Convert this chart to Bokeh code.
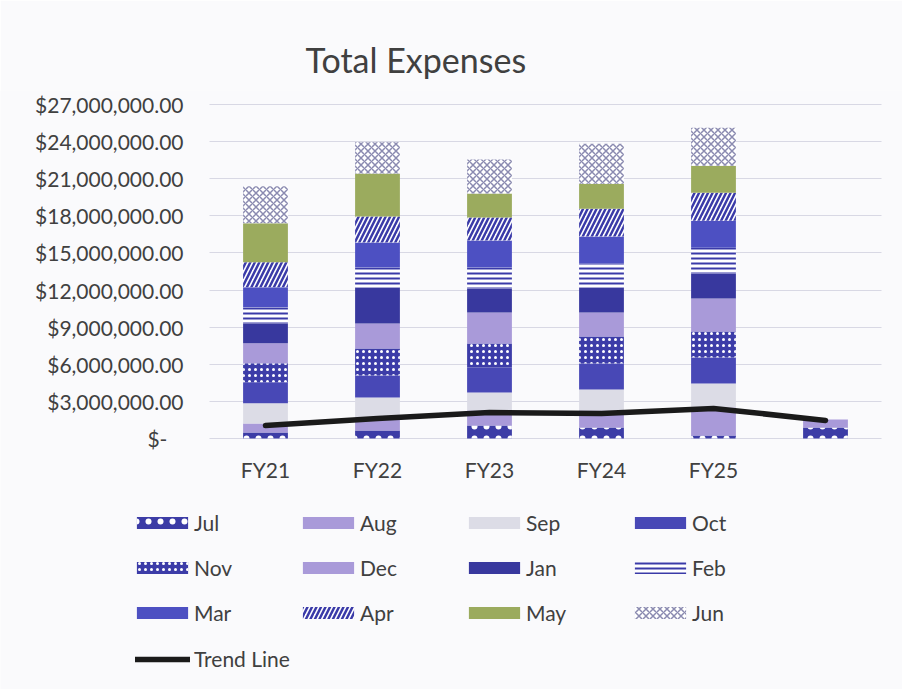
from bokeh.plotting import figure
from bokeh.models import (ColumnDataSource, FixedTicker, NumeralTickFormatter,
                          Legend, LegendItem, Range1d)
from bokeh.transform import stack
from bokeh.embed import file_html
from bokeh.resources import INLINE

# ---------------- data ----------------
categories = ["FY21", "FY22", "FY23", "FY24", "FY25", ""]
months = ["Jul", "Aug", "Sep", "Oct", "Nov", "Dec",
          "Jan", "Feb", "Mar", "Apr", "May", "Jun"]

jul = [490000, 650000, 1050000, 890000, 240000, 890000]
aug = [730000, 1050000, 1210000, 1370000, 2260000, 650000]
sep = [1620000, 1620000, 1460000, 1700000, 1940000, 0]
oct_ = [1700000, 1780000, 2020000, 2100000, 2100000, 0]
nov = [1540000, 2180000, 1940000, 2180000, 2100000, 0]
dec = [1620000, 2020000, 2510000, 1940000, 2670000, 0]
jan = [1620000, 2910000, 1940000, 2020000, 2020000, 0]
feb = [1290000, 1620000, 1700000, 1940000, 2100000, 0]
mar = [1620000, 2020000, 2180000, 2180000, 2180000, 0]
apr = [2020000, 2100000, 1860000, 2260000, 2260000, 0]
may = [3150000, 3480000, 1940000, 2020000, 2180000, 0]
jun = [2990000, 2510000, 2750000, 3230000, 3070000, 0]
trend = [1050000, 1620000, 2100000, 2020000, 2430000, 1460000]

y_ticks = [0, 3000000, 6000000, 9000000, 12000000, 15000000,
           18000000, 21000000, 24000000, 27000000]

series = [jul, aug, sep, oct_, nov, dec, jan, feb, mar, apr, may, jun]

# ---------------- styles ----------------
BG = "#fafafc"
TXT = "#404040"
FONT = "Lato"
styles = {
    "Jul": dict(fill_color="#3c3ca6", hatch_pattern="dot", hatch_color="white", hatch_scale=12, hatch_weight=1.5),
    "Aug": dict(fill_color="#a99ad9"),
    "Sep": dict(fill_color="#dcdce6"),
    "Oct": dict(fill_color="#4848b6"),
    "Nov": dict(fill_color="#3c3ca8", hatch_pattern="dot", hatch_color="white", hatch_scale=6, hatch_weight=2.5),
    "Dec": dict(fill_color="#a99ad9"),
    "Jan": dict(fill_color="#38389e"),
    "Feb": dict(fill_color="white", hatch_pattern="horizontal_line", hatch_color="#3a3aa8", hatch_scale=5, hatch_weight=2),
    "Mar": dict(fill_color="#4d50c2"),
    "Apr": dict(fill_color="white", hatch_pattern="right_diagonal_line", hatch_color="#3a3aa8", hatch_scale=9, hatch_weight=2.5),
    "May": dict(fill_color="#9bab5e"),
    "Jun": dict(fill_color="white", hatch_pattern="diagonal_cross", hatch_color="#8a8ab0", hatch_scale=7, hatch_weight=1.5),
}

xs = list(range(1, len(categories) + 1))
data = {"x": xs, "trend": trend}
for m, s in zip(months, series):
    data[m] = s
source = ColumnDataSource(data)

# geometry: category spacing 112px, first category centre at 265px
PX = 112.0
x0 = 1 - 265 / PX
x1 = 1 + (902 - 265) / PX
Y_TOP = 27000000
y_per_px = Y_TOP / 334.0          # 0 at y=438px, 27M at y=104px
FRAME_TOP = 90
y1 = Y_TOP + (104 - FRAME_TOP) * y_per_px
y0 = -(689 - 438) * y_per_px

p = figure(width=902, height=689, x_range=Range1d(x0, x1),
           y_range=Range1d(y0, y1), output_backend="svg",
           toolbar_location=None, background_fill_color=BG,
           border_fill_color=BG, outline_line_color=None,
           min_border_left=0, min_border_right=0,
           min_border_top=FRAME_TOP, min_border_bottom=0)

p.title.text = "Total Expenses"
p.title.align = "left"
p.title.offset = 305
p.title.text_font = FONT
p.title.text_font_size = "34px"
p.title.text_font_style = "normal"
p.title.text_color = TXT
p.title.standoff = 22

renderers = {}
for i, m in enumerate(months):
    r = p.vbar(x="x", width=0.40, bottom=stack(*months[:i]),
               top=stack(*months[:i + 1]), source=source,
               line_color=None, **styles[m])
    renderers[m] = r

tl = p.line(x="x", y="trend", source=source, line_color="#1a1a1a",
            line_width=5.5, line_cap="round")

# axes
p.xaxis.ticker = FixedTicker(ticks=[x for x, c in zip(xs, categories) if c])
p.xaxis.major_label_overrides = {x: c for x, c in zip(xs, categories) if c}
p.xaxis.fixed_location = 0
p.yaxis.ticker = FixedTicker(ticks=y_ticks)
p.yaxis.formatter = NumeralTickFormatter(format="$0,0.00")
p.yaxis.major_label_overrides = {0: "$-\u00a0\u00a0\u00a0"}
p.yaxis.fixed_location = 1 - (265 - 209) / PX
for ax in (p.xaxis[0], p.yaxis[0]):
    ax.axis_line_color = None
    ax.major_tick_line_color = None
    ax.minor_tick_line_color = None
    ax.major_label_text_font = FONT
    ax.major_label_text_font_size = "21px"
    ax.major_label_text_color = TXT
p.yaxis.major_label_standoff = 20
p.xaxis.major_label_standoff = 12

p.xgrid.grid_line_color = None
p.ygrid.grid_line_color = "#d8d8e4"
p.ygrid.grid_line_width = 1
p.ygrid.cross_bounds = (0.5, 6.5)

# legends (one per row)
rows = [["Jul", "Aug", "Sep", "Oct"], ["Nov", "Dec", "Jan", "Feb"],
        ["Mar", "Apr", "May", "Jun"]]
row_vy = [154, 109, 64]
for names, vy in zip(rows, row_vy):
    lg = Legend(items=[LegendItem(label=n, renderers=[renderers[n]]) for n in names],
                orientation="horizontal", location=(130, vy),
                glyph_width=64, glyph_height=15, label_standoff=0,
                label_width=94, label_height=20, spacing=8, padding=0, margin=0,
                border_line_color=None, background_fill_alpha=0,
                label_text_font=FONT, label_text_font_size="21px",
                label_text_color=TXT)
    p.add_layout(lg, "center")

lg_t = Legend(items=[LegendItem(label="Trend Line", renderers=[tl])],
              orientation="horizontal", location=(135, 18),
              glyph_width=55, glyph_height=12, label_standoff=4,
              label_height=20, padding=0, margin=0,
              border_line_color=None, background_fill_alpha=0,
              label_text_font=FONT, label_text_font_size="21px",
              label_text_color=TXT)
p.add_layout(lg_t, "center")

open("out.html", "w").write(file_html(p, INLINE))
